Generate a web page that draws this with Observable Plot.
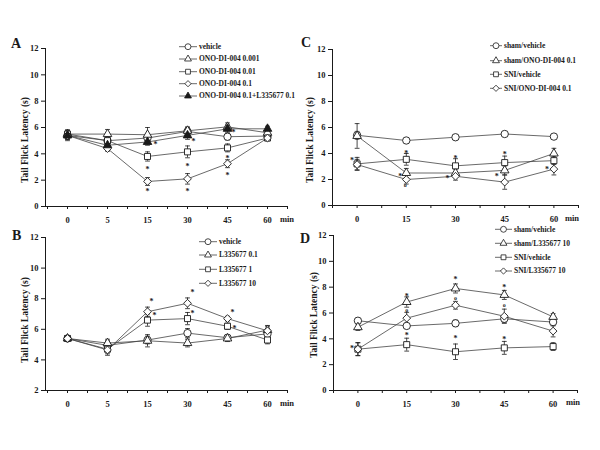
<!DOCTYPE html>
<html><head><meta charset="utf-8">
<script src="https://cdn.jsdelivr.net/npm/d3@7"></script>
<script src="https://cdn.jsdelivr.net/npm/@observablehq/plot@0.6"></script>
<style>
body{margin:0;background:#fff;}
#wrap{position:relative;width:600px;height:450px;background:#fff;overflow:hidden;}
.panel{position:absolute;}
</style></head><body><div id="wrap"></div>
<script>
// ---------- tick labels ----------
const timesAB = ["0","5","15","30","45","60"];
const timesCD = ["0","15","30","45","60"];
const yTicks0 = [0,2,4,6,8,10,12];
const yTicks2 = [2,4,6,8,10,12];

// ---------- Panel A ----------
const aNames = ["vehicle","ONO-DI-004 0.001","ONO-DI-004 0.01","ONO-DI-004 0.1","ONO-DI-004 0.1+L335677 0.1"];
const aVehicle    = [5.4, 5.0, 5.2, 5.7, 5.3, 5.35];
const aVehicleErr = [0.4, 0.2, 0.3, 0.3, 0.25, 0.2];
const aOno0001    = [5.5, 5.5, 5.45, 5.75, 6.05, 5.6];
const aOno0001Err = [0.3, 0.35, 0.55, 0.3, 0.3, 0.2];
const aOno001     = [5.5, 5.0, 3.8, 4.15, 4.45, 5.2];
const aOno001Err  = [0.3, 0.3, 0.35, 0.45, 0.3, 0.2];
const aOno01      = [5.4, 4.4, 1.9, 2.1, 3.25, 5.2];
const aOno01Err   = [0.3, 0.2, 0.3, 0.4, 0.3, 0.2];
const aOnoL       = [5.4, 4.65, 4.9, 5.4, 5.9, 5.9];
const aOnoLErr    = [0.3, 0.25, 0.25, 0.3, 0.3, 0.2];
const aNotes = [
  {t:2, v:3.0, s:"*", dx:0},{t:2, v:1.3, s:"*", dx:0},{t:2, v:4.88, s:"*", dx:8},
  {t:3, v:3.25, s:"*", dx:0},{t:3, v:1.3, s:"*", dx:0},{t:3, v:5.16, s:"*", dx:6},
  {t:4, v:3.85, s:"*", dx:0},{t:4, v:2.55, s:"*", dx:0},{t:4, v:5.8, s:"*", dx:6}
];

// ---------- Panel B ----------
const bNames = ["vehicle","L335677 0.1","L335677 1","L335677 10"];
const bVehicle = [5.4, 4.95, 5.3, 5.75, 5.45, 5.7];
const bVehicleErr = [0.15, 0.3, 0.25, 0.3, 0.2, 0.3];
const bL01 = [5.4, 5.1, 5.25, 5.1, 5.4, 5.95];
const bL01Err = [0.15, 0.25, 0.4, 0.25, 0.2, 0.3];
const bL1 = [5.4, 4.7, 6.6, 6.7, 6.2, 5.3];
const bL1Err = [0.15, 0.3, 0.4, 0.4, 0.2, 0.25];
const bL10 = [5.4, 4.65, 7.15, 7.7, 6.7, 5.9];
const bL10Err = [0.15, 0.35, 0.3, 0.35, 0.15, 0.3];
const bNotes = [
  {t:2, v:8.0, s:"*", dx:4},{t:2, v:7.05, s:"*", dx:7},
  {t:3, v:8.55, s:"*", dx:5},{t:3, v:7.2, s:"*", dx:5},
  {t:4, v:7.26, s:"*", dx:5},{t:4, v:6.24, s:"*", dx:7}
];

// ---------- Panel C ----------
const cNames = ["sham/vehicle","sham/ONO-DI-004 0.1","SNI/vehicle","SNI/ONO-DI-004 0.1"];
const cShamVeh = [5.4, 5.0, 5.25, 5.5, 5.3];
const cShamVehErr = [0.3, 0.15, 0.2, 0.15, 0.15];
const cShamOno = [5.35, 2.5, 2.5, 2.7, 4.0];
const cShamOnoErr = [0.95, 0.35, 0.3, 0.35, 0.4];
const cSniVeh = [3.2, 3.55, 3.05, 3.3, 3.45];
const cSniVehErr = [0.5, 0.45, 0.55, 0.5, 0.3];
const cSniOno = [3.15, 2.0, 2.25, 1.8, 2.8];
const cSniOnoErr = [0.4, 0.35, 0.3, 0.55, 0.45];
const cNotes = [
  {t:0, v:3.64, s:"*", dx:-5},{t:1, v:4.18, s:"*", dx:0},{t:1, v:2.4, s:"*", dx:-6},{t:1, v:1.54, s:"o", dx:-1},
  {t:2, v:3.85, s:"*", dx:0},{t:2, v:2.3, s:"*", dx:-8},
  {t:3, v:4.1, s:"*", dx:0},{t:3, v:2.45, s:"*", dx:-8},{t:4, v:3.0, s:"*", dx:-7}
];

// ---------- Panel D ----------
const dNames = ["sham/vehicle","sham/L335677 10","SNI/vehicle","SNI/L335677 10"];
const dShamVeh = [5.4, 5.0, 5.2, 5.55, 5.3];
const dShamVehErr = [0.2, 0.2, 0.25, 0.3, 0.3];
const dShamL = [4.9, 6.85, 7.9, 7.4, 5.7];
const dShamLErr = [0.25, 0.4, 0.35, 0.35, 0.25];
const dSniVeh = [3.2, 3.55, 3.0, 3.3, 3.4];
const dSniVehErr = [0.5, 0.5, 0.6, 0.5, 0.3];
const dSniL = [3.2, 5.6, 6.6, 5.75, 4.6];
const dSniLErr = [0.5, 0.45, 0.3, 0.55, 0.45];
const dNotes = [
  {t:0, v:3.48, s:"*", dx:-6},
  {t:1, v:7.5, s:"*", dx:0},{t:1, v:6.2, s:"o", dx:0},{t:1, v:4.47, s:"*", dx:0},
  {t:2, v:8.77, s:"*", dx:0},{t:2, v:7.1, s:"o", dx:0},{t:2, v:4.2, s:"*", dx:0},
  {t:3, v:8.18, s:"*", dx:0},{t:3, v:6.58, s:"o", dx:0},{t:3, v:4.13, s:"*", dx:0}
];

// ---------- drawing ----------
const INK = "#1a1a1a", LINE = "#444";
const FONT = "'Liberation Serif','Times New Roman',serif";
const cap = {draw(ctx, size){ const w = Math.sqrt(size/Math.PI); ctx.moveTo(-w,0); ctx.lineTo(w,0); }};
const symR = {circle:3.7, triangle:3.2, square:3.4, diamond2:3.5};
const wrap = document.getElementById("wrap");

function mk(names, vals, errs, syms, fills){
  return names.map((nm,k) => ({name:nm, values:vals[k], errors:errs[k], symbol:syms[k], fill:fills[k]}));
}
const SYM5 = ["circle","triangle","square","diamond2","triangle"];
const FILL5 = ["white","white","white","white",INK];
const SYM4 = ["circle","triangle","square","diamond2"];
const FILL4 = ["white","white","white","white"];

const panels = [
  {key:"A", left:0, top:30, w:300, h:200, m:[45,13,18,24], xDomain:[-0.55,5.5], yDomain:[0,12], yTicks:yTicks0, times:timesAB, notes:aNotes,
   series: mk(aNames,[aVehicle,aOno0001,aOno001,aOno01,aOnoL],[aVehicleErr,aOno0001Err,aOno001Err,aOno01Err,aOnoLErr],SYM5,FILL5)},
  {key:"B", left:0, top:220, w:300, h:200, m:[45,13,17,30], xDomain:[-0.55,5.5], yDomain:[2,12], yTicks:yTicks2, times:timesAB, notes:bNotes,
   series: mk(bNames,[bVehicle,bL01,bL1,bL10],[bVehicleErr,bL01Err,bL1Err,bL10Err],SYM4,FILL4)},
  {key:"C", left:300, top:30, w:300, h:200, m:[32,22,19,25], xDomain:[-0.5,4.5], yDomain:[0,12], yTicks:yTicks0, times:timesCD, notes:cNotes,
   series: mk(cNames,[cShamVeh,cShamOno,cSniVeh,cSniOno],[cShamVehErr,cShamOnoErr,cSniVehErr,cSniOnoErr],SYM4,FILL4)},
  {key:"D", left:300, top:220, w:300, h:200, m:[33,23,15,30], xDomain:[-0.5,4.5], yDomain:[0,12], yTicks:yTicks0, times:timesCD, notes:dNotes,
   series: mk(dNames,[dShamVeh,dShamL,dSniVeh,dSniL],[dShamVehErr,dShamLErr,dSniVehErr,dSniLErr],SYM4,FILL4)}
];

function drawPanel(p){
  const n = p.times.length;
  const minor = d3.range(-1, 2*n).map(k => k/2);
  const marks = [];
  p.series.forEach(s => {
    const rows = s.values.map((v,i) => ({i, v, e: s.errors[i]}));
    marks.push(Plot.ruleX(rows, {x:"i", y1:d=>d.v-d.e, y2:d=>d.v+d.e, stroke:INK, strokeWidth:0.8}));
    marks.push(Plot.dot(rows, {x:"i", y:d=>d.v+d.e, symbol:cap, r:2.4, stroke:INK, strokeWidth:0.8, fill:"none"}));
    marks.push(Plot.dot(rows, {x:"i", y:d=>d.v-d.e, symbol:cap, r:2.4, stroke:INK, strokeWidth:0.8, fill:"none"}));
  });
  p.series.forEach(s => {
    const rows = s.values.map((v,i) => ({i, v}));
    marks.push(Plot.line(rows, {x:"i", y:"v", stroke:LINE, strokeWidth:0.8}));
  });
  p.series.forEach(s => {
    const rows = s.values.map((v,i) => ({i, v}));
    marks.push(Plot.dot(rows, {x:"i", y:"v", symbol:s.symbol, r:symR[s.symbol], fill:s.fill, stroke:INK, strokeWidth:0.9}));
  });
  // significance marks, grouped by offset
  d3.groups(p.notes, d => d.dx + "|" + d.s).forEach(([k, arr]) => {
    const star = arr[0].s === "*";
    marks.push(Plot.text(arr, {x:"t", y:"v", text:"s", dx: arr[0].dx, dy: star ? 2.5 : -0.5, fontSize: star ? 8 : 6, fill:INK}));
  });
  const chart = Plot.plot({
    width: p.w, height: p.h,
    marginLeft: p.m[0], marginRight: p.m[1], marginTop: p.m[2], marginBottom: p.m[3],
    style: {fontFamily: FONT, fontWeight: "bold", fontSize: "8.5px", background: "transparent", color: INK, overflow: "visible"},
    x: {domain: p.xDomain, ticks: minor, tickFormat: d => (Number.isInteger(d) && d >= 0 && d < n) ? p.times[d] : "", tickSize: 3, tickPadding: 7, line: true, label: null},
    y: {domain: p.yDomain, ticks: p.yTicks, tickSize: 4, tickPadding: 3, line: true, label: null},
    marks
  });
  chart.classList.add("panel");
  chart.style.left = p.left + "px";
  chart.style.top = p.top + "px";
  wrap.appendChild(chart);
}
panels.forEach(drawPanel);

// ---------- overlay: panel letters, axis titles, legends ----------
const ov = d3.select(wrap).append("svg")
  .attr("width", 600).attr("height", 450)
  .style("position","absolute").style("left","0px").style("top","0px")
  .style("pointer-events","none")
  .attr("font-family", FONT).attr("font-weight","bold").attr("fill", INK);

const letterPos = {A:[11,48], B:[12,240], C:[301,47], D:[300,243]};
const titlePos = {A:[28,140], B:[28,320], C:[313,140], D:[317,315]};
const minPos = {A:[287,222], B:[287,406], C:[572,221], D:[573,405]};
const legendPos = {
  A:{x1:179, x2:197, tx:199, ys:[46.7,59,71.7,83.7,96], fs:7.5},
  B:{x1:199, x2:217, tx:219, ys:[241.7,255,269.3,283.3], fs:7.5},
  C:{x1:490, x2:502, tx:504, ys:[45.7,60.7,74.3,88.3], fs:7.5},
  D:{x1:495, x2:512, tx:514, ys:[229.3,243.3,257.3,271], fs:7.5}
};
const d3sym = {circle:d3.symbolCircle, triangle:d3.symbolTriangle, square:d3.symbolSquare, diamond2:d3.symbolDiamond2};

panels.forEach(p => {
  const [lx, ly] = letterPos[p.key];
  ov.append("text").attr("x", lx).attr("y", ly).attr("font-size", 14).text(p.key);
  const [tx, ty] = titlePos[p.key];
  ov.append("text").attr("transform", `translate(${tx},${ty}) rotate(-90)`).attr("text-anchor","middle").attr("font-size", 9.5).text("Tail Flick Latency (s)");
  const [mx, my] = minPos[p.key];
  ov.append("text").attr("x", mx).attr("y", my).attr("text-anchor","middle").attr("font-size", 8.5).text("min");
  const L = legendPos[p.key];
  p.series.forEach((s, k) => {
    const y = L.ys[k];
    ov.append("line").attr("x1", L.x1).attr("x2", L.x2).attr("y1", y).attr("y2", y).attr("stroke", LINE).attr("stroke-width", 0.8);
    const r = symR[s.symbol] * 0.8;
    ov.append("path").attr("transform", `translate(${(L.x1+L.x2)/2},${y})`)
      .attr("d", d3.symbol(d3sym[s.symbol], Math.PI*r*r)())
      .attr("fill", s.fill).attr("stroke", INK).attr("stroke-width", 0.8);
    ov.append("text").attr("x", L.tx).attr("y", y).attr("dy","0.33em").attr("font-size", L.fs).text(s.name);
  });
});
</script></body></html>
